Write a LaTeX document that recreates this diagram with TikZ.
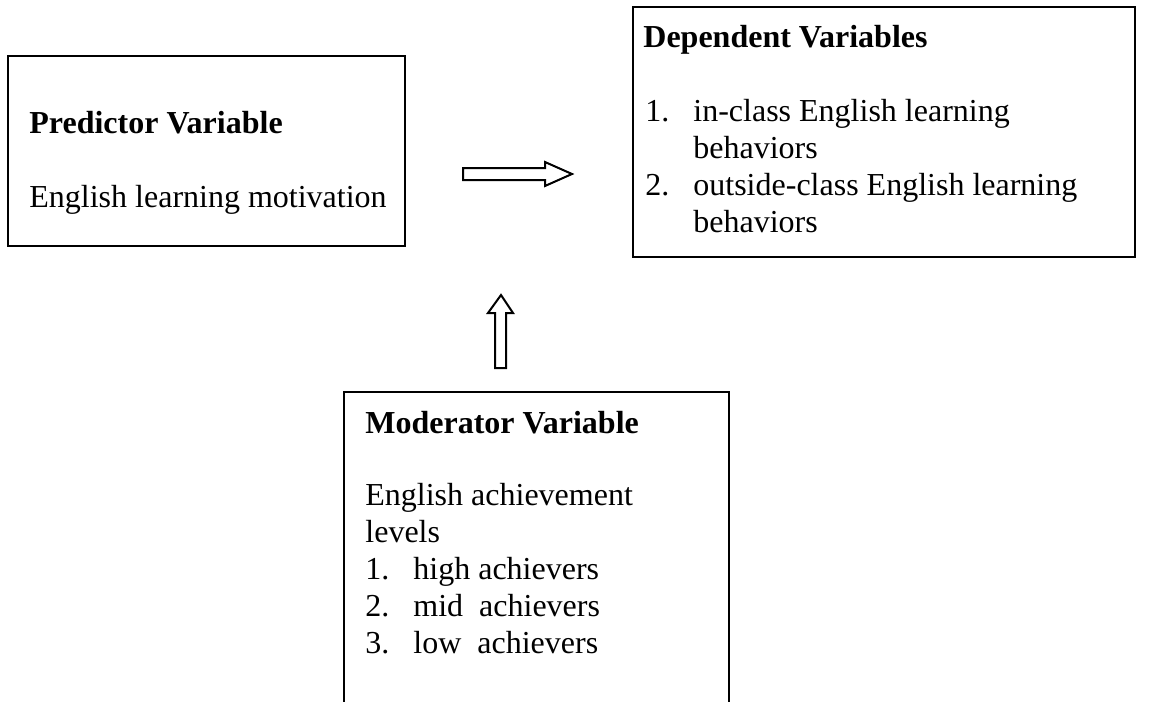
\documentclass[tikz,border=0pt]{standalone}
\usepackage{fontspec}
\setmainfont{Liberation Serif}
\begin{document}
\begin{tikzpicture}[x=0.5pt,y=-0.5pt,
  boxline/.style={line width=1pt},
  frame/.style={draw, boxline, anchor=north west, inner sep=0pt, outer sep=0pt},
  txt/.style={anchor=base west, inner sep=0pt, font=\fontsize{16}{18.5}\selectfont},
  hd/.style={anchor=base west, inner sep=0pt, font=\fontsize{16}{18.5}\selectfont\bfseries},
  blockarrow/.style={line width=1pt, line join=miter, fill=white}]
\useasboundingbox (0,0) rectangle (1153,702);

% Predictor box
\node[frame, minimum width=198.5pt, minimum height=95pt] (pred) at (8,56) {};
\node[hd] (predh) at (29,133) {Predictor Variable};
\node[txt] (predt) at (29,207) {English learning motivation};

% Dependent box
\node[frame, minimum width=251pt, minimum height=125pt] (dep) at (633,7) {};
\node[hd] (deph) at (643,47) {Dependent Variables};
\node[txt] (depn1) at (645,121) {1.};
\node[txt] (dept1) at (693,121) {in-class English learning};
\node[txt] (dept1b) at (693,158) {behaviors};
\node[txt] (depn2) at (645,195) {2.};
\node[txt] (dept2) at (693,195) {outside-class English learning};
\node[txt] (dept2b) at (693,232) {behaviors};

% Moderator box (open at the bottom)
\node[anchor=north west, inner sep=0pt, outer sep=0pt, minimum width=192.5pt, minimum height=155pt] (mod) at (344,392) {};
\draw[boxline] (mod.south west) -- (mod.north west) -- (mod.north east) -- (mod.south east);
\node[hd] (modh) at (365,433) {Moderator Variable};
\node[txt] (modt1) at (365,505) {English achievement};
\node[txt] (modt2) at (365,542) {levels};
\node[txt] (modn1) at (365,579) {1.};
\node[txt] (modi1) at (413,579) {high achievers};
\node[txt] (modn2) at (365,616) {2.};
\node[txt] (modi2) at (413,616) {mid\ \ achievers};
\node[txt] (modn3) at (365,653) {3.};
\node[txt] (modi3) at (413,653) {low\ \ achievers};

% Block arrows
\draw[blockarrow] (463,168) -- (545,168) -- (545,162) -- (572,174) -- (545,186) -- (545,180) -- (463,180) -- cycle;
\draw[blockarrow] (495,368) -- (495,313) -- (488,313) -- (501,295) -- (513,313) -- (506,313) -- (506,368) -- cycle;
\end{tikzpicture}
\end{document}
